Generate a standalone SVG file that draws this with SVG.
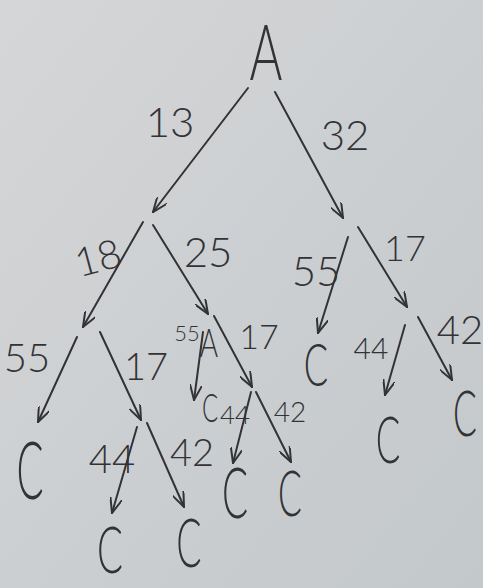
<svg xmlns="http://www.w3.org/2000/svg" width="483" height="588" viewBox="0 0 483 588">
<defs>
<linearGradient id="bg" x1="0" y1="0" x2="1" y2="1">
<stop offset="0" stop-color="#d5d6d8"/>
<stop offset="1" stop-color="#c3c8ca"/>
</linearGradient>
<marker id="v" viewBox="0 0 16 12" refX="15" refY="6" markerWidth="16" markerHeight="12" markerUnits="userSpaceOnUse" orient="auto">
<path d="M0,0 L15,6 L0,12" fill="none" stroke="#333336" stroke-width="2" stroke-linecap="round"/>
</marker>
</defs>
<style>
text{font-family:Lato,"Open Sans","Liberation Sans",sans-serif;font-weight:300;fill:#333336;text-anchor:middle}
.e{stroke:#333336;stroke-width:2;fill:none;stroke-linecap:round;marker-end:url(#v)}
</style>
<rect width="483" height="588" fill="url(#bg)"/>
<g id="connectors">
<line class="e" x1="248" y1="88" x2="153" y2="212"/>
<line class="e" x1="275" y1="92" x2="343" y2="218"/>
<line class="e" x1="143" y1="222" x2="83" y2="327"/>
<line class="e" x1="153" y1="225" x2="208" y2="314"/>
<line class="e" x1="77" y1="337" x2="38" y2="422"/>
<line class="e" x1="100" y1="332" x2="141" y2="420"/>
<line class="e" x1="137" y1="427" x2="112" y2="513"/>
<line class="e" x1="147" y1="423" x2="184" y2="507"/>
<line class="e" x1="203" y1="332" x2="194" y2="400"/>
<line class="e" x1="214" y1="316" x2="252" y2="387"/>
<line class="e" x1="251" y1="392" x2="233" y2="463"/>
<line class="e" x1="256" y1="392" x2="291" y2="462"/>
<line class="e" x1="348" y1="237" x2="318" y2="333"/>
<line class="e" x1="358" y1="227" x2="407" y2="307"/>
<line class="e" x1="405" y1="325" x2="385" y2="395"/>
<line class="e" x1="418" y1="317" x2="452" y2="380"/>
</g>
<g id="labels">
<text x="170" y="137" font-size="42">13</text>
<text x="345" y="150" font-size="42">32</text>
<text x="98" y="272" font-size="40" transform="rotate(-15 98 258)">18</text>
<text x="208" y="267" font-size="42">25</text>
<text x="27" y="372" font-size="40">55</text>
<text x="146" y="380" font-size="38">17</text>
<text x="187" y="341" font-size="22">55</text>
<text x="259" y="349" font-size="34">17</text>
<text x="235" y="424" font-size="26">44</text>
<text x="290" y="422" font-size="28">42</text>
<text x="316" y="286" font-size="42">55</text>
<text x="405" y="261" font-size="36">17</text>
<text x="371" y="359" font-size="30">44</text>
<text x="460" y="344" font-size="40">42</text>
<text x="112" y="473" font-size="40">44</text>
<text x="192" y="466" font-size="38">42</text>
</g>
<g id="node-A"><text font-size="76" transform="translate(266,80) scale(0.66,1)">A</text></g>
<g id="node-x"><text font-size="40" transform="translate(209,357) scale(0.7,1)">A</text></g>
<g id="node-c1"><text font-size="40" transform="translate(210,422) scale(0.6,1)">C</text></g>
<g id="node-c2"><text font-size="60" transform="translate(316,386) scale(0.6,1)">C</text></g>
<g id="node-c3"><text font-size="66" transform="translate(388,463) scale(0.55,1)">C</text></g>
<g id="node-c4"><text font-size="64" transform="translate(465,436) scale(0.55,1)">C</text></g>
<g id="node-c5"><text font-size="80" transform="translate(30,499) scale(0.5,1)">C</text></g>
<g id="node-c6"><text font-size="70" transform="translate(235,518) scale(0.55,1)">C</text></g>
<g id="node-c7"><text font-size="64" transform="translate(290,516) scale(0.55,1)">C</text></g>
<g id="node-c8"><text font-size="66" transform="translate(110,573) scale(0.58,1)">C</text></g>
<g id="node-c9"><text font-size="68" transform="translate(189,567) scale(0.55,1)">C</text></g>
</svg>
